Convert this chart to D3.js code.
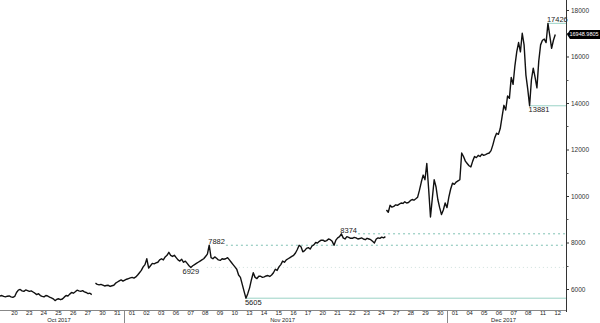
<!DOCTYPE html>
<html>
<head>
<meta charset="utf-8">
<script src="https://cdn.jsdelivr.net/npm/d3@7"></script>
<style>
    body { margin: 0; background: #fff; }
    svg { display: block; font-family: "Liberation Sans", Arial, sans-serif; }
</style>
</head>
<body>
<div id="chart"></div>
<script>
// trading days only (weekends skipped), position 0 = 20 Oct 2017
const dayLabels = ["20", "23", "24", "25", "26", "27", "30", "31",
    "01", "02", "03", "06", "07", "08", "09", "10", "13", "14", "15", "16", "17",
    "20", "21", "22", "23", "24", "27", "28", "29", "30",
    "01", "04", "05", "06", "07", "08", "11", "12"];
const monthLabels = ["Oct 2017", "Nov 2017", "Dec 2017"];
const monthFirstDay = [0, 8, 30];

// price readings every 1/8 trading day, three unbroken pieces
const pieceStart = [-0.95, 5.55, 25.37];
const step = 0.125;
const pricesA = [5700, 5720, 5680, 5660, 5690, 5700, 5660, 5640, 5680, 5850,
    5950, 5980, 5920, 5900, 5960, 5930, 5900, 5920, 5870, 5820,
    5760, 5800, 5720, 5680, 5660, 5720, 5700, 5650, 5620, 5580,
    5500, 5560, 5580, 5540, 5570, 5650, 5720, 5700, 5780, 5850,
    5820, 5880, 5950, 5920, 5900, 5930, 5880, 5850, 5800, 5820,
    5760];
const pricesB = [6250, 6200, 6180, 6200, 6170, 6130, 6150, 6160, 6110, 6140,
    6160, 6250, 6300, 6350, 6390, 6340, 6380, 6420, 6450, 6480,
    6500, 6470, 6520, 6600, 6700, 6800, 6950, 7050, 7300, 6900,
    7000, 7100, 7080, 7120, 7150, 7250, 7300, 7250, 7380, 7450,
    7580, 7450, 7400, 7450, 7350, 7250, 7200, 7280, 7150, 7200,
    7100, 7000, 6929, 7000, 7050, 7100, 7150, 7200, 7250, 7300,
    7400, 7500, 7882, 7350, 7300, 7380, 7320, 7250, 7230, 7300,
    7280, 7300, 7350, 7250, 7150, 7050, 6950, 6850, 6600, 6500,
    6200, 5900, 5605, 5800, 6050, 6400, 6700, 6500, 6450, 6550,
    6550, 6500, 6520, 6560, 6580, 6540, 6600, 6700, 6850, 6800,
    6950, 7050, 7200, 7150, 7250, 7300, 7350, 7400, 7450, 7550,
    7700, 7880, 7820, 7600, 7650, 7750, 7780, 7720, 7850, 7900,
    8000, 7980, 8050, 8100, 8100, 8050, 8080, 8150, 8120, 8050,
    7880, 8100, 8200, 8250, 8374, 8200, 8150, 8250, 8220, 8180,
    8180, 8220, 8200, 8150, 8170, 8200, 8150, 8120, 8180, 8150,
    8120, 8050, 7980, 8150, 8200, 8180, 8230, 8200, 8250];
const pricesC = [9400, 9300, 9600, 9520, 9550, 9620, 9600, 9650, 9700, 9680,
    9750, 9700, 9720, 9800, 9850, 9820, 9880, 9950, 10250, 10600,
    10900, 10700, 11400, 10300, 9100, 9900, 10700, 10400, 9850, 9500,
    9200, 9400, 9700, 9500, 9950, 10300, 10550, 10500, 10600, 10650,
    10700, 11850, 11700, 11500, 11400, 11300, 11250, 11500, 11700, 11650,
    11750, 11700, 11800, 11750, 11780, 11820, 11850, 11950, 12200, 12500,
    12700, 12650, 12900, 13400, 13900, 13700, 14300, 14200, 15100, 14800,
    15600, 16200, 16600, 16200, 17000, 16500, 15200, 14600, 13881, 15000,
    15500, 15100, 14650, 15800, 16500, 16700, 16750, 16600, 17426, 16900,
    16350, 16700, 16948.9805];
const lastPrice = 16948.9805;

// marked highs and lows
const levelValues = [17426, 13881, 8374, 7882, 6929, 5605];
const levelSide = ["above", "below", "above", "above", "below", "below"];

const width = 600, height = 323;
const plotRight = 566, plotBottom = 310;

const svg = d3.select("#chart").append("svg")
    .attr("width", width)
    .attr("height", height);

const x = d3.scaleLinear().domain([-0.95, 37.6]).range([0, plotRight]);
const y = d3.scaleLinear().domain([5097, 18430]).range([plotBottom, 0]);

const pieces = [pricesA, pricesB, pricesC].map(function(arr, k) {
    return arr.map(function(v, i) {
        return {t: pieceStart[k] + i * step, v: v};
    });
});
const allPoints = pieces.flat();

// level lines
const levelKind = ["solid", "solid", "dashed", "dashed", "dotted", "solid"];
const look = {
    solid: {dash: null, color: "#9ad3c6"},
    dashed: {dash: "2,3", color: "#7fc1b3"},
    dotted: {dash: "1,3", color: "#cfe0dc"}
};

const levels = svg.append("g").attr("class", "levels");
levelValues.forEach(function(val, i) {
    const p = allPoints.find(function(d) { return d.v === val; });
    const px = x(p.t), py = y(val);
    const label = levels.append("text")
        .attr("x", levelKind[i] === "dotted" ? px : px - 1)
        .attr("y", levelSide[i] === "above" ? py - 1 : py + 6.5)
        .attr("text-anchor", levelKind[i] === "dotted" ? "middle" : "start")
        .attr("font-size", 7.5)
        .attr("fill", "#222")
        .text(val);
    let x0 = px;
    if (levelKind[i] === "dashed") x0 = px + label.node().getComputedTextLength();
    if (levelKind[i] === "dotted") x0 = px + 16;
    levels.insert("line", "text")
        .attr("x1", x0).attr("x2", plotRight)
        .attr("y1", py).attr("y2", py)
        .attr("stroke", look[levelKind[i]].color)
        .attr("stroke-width", 1)
        .attr("stroke-dasharray", look[levelKind[i]].dash);
});

// price line
const line = d3.line()
    .x(function(d) { return x(d.t); })
    .y(function(d) { return y(d.v); });

svg.append("g").selectAll("path")
    .data(pieces)
    .enter().append("path")
    .attr("d", line)
    .attr("fill", "none")
    .attr("stroke", "#111")
    .attr("stroke-width", 1.4)
    .attr("stroke-linejoin", "round");

// right axis
const yAxis = svg.append("g")
    .attr("transform", "translate(" + plotRight + ",0)")
    .call(d3.axisRight(y)
        .tickValues(d3.range(6000, 18001, 2000))
        .tickFormat(d3.format("d"))
        .tickSize(3)
        .tickPadding(2));
yAxis.select(".domain").attr("d", "M0.5,0V" + (plotBottom + 2)).attr("stroke", "#333");
yAxis.selectAll(".tick line").attr("stroke", "#333");
yAxis.selectAll(".tick text").attr("font-size", 6.5).attr("fill", "#333");

svg.append("g")
    .attr("transform", "translate(" + plotRight + ",0)")
    .selectAll("line")
    .data(d3.range(7000, 18001, 2000))
    .enter().append("line")
    .attr("x1", 0.5).attr("x2", 2.5)
    .attr("y1", function(d) { return Math.round(y(d)) + 0.5; })
    .attr("y2", function(d) { return Math.round(y(d)) + 0.5; })
    .attr("stroke", "#555");

// last price tag
const tagY = y(lastPrice);
svg.append("path")
    .attr("d", "M" + (plotRight + 1) + "," + tagY + "L" + (plotRight + 4) + "," + (tagY - 4.5) +
        "H" + width + "V" + (tagY + 4.5) + "H" + (plotRight + 4) + "Z")
    .attr("fill", "#000");
svg.append("text")
    .attr("x", plotRight + 3.5)
    .attr("y", tagY + 2)
    .attr("font-size", 5.5)
    .attr("fill", "#fff")
    .text(lastPrice);

// bottom axis
const xAxis = svg.append("g")
    .attr("transform", "translate(0," + plotBottom + ")")
    .call(d3.axisBottom(x)
        .tickValues(d3.range(dayLabels.length))
        .tickFormat(function(i) { return dayLabels[i]; })
        .tickSize(0));
xAxis.select(".domain").attr("d", "M0,0.5H" + plotRight).attr("stroke", "#888");
xAxis.selectAll(".tick text")
    .attr("y", 5.3)
    .attr("dy", null)
    .attr("font-size", 5.8)
    .attr("fill", "#222");

// month separators and names
const bounds = monthFirstDay.map(function(d, k) {
    return k === 0 ? x.range()[0] : x(d - 0.5);
}).concat([plotRight]);

svg.append("g").selectAll("line")
    .data(monthFirstDay.slice(1))
    .enter().append("line")
    .attr("x1", function(d) { return Math.round(x(d - 0.5)) + 0.5; })
    .attr("x2", function(d) { return Math.round(x(d - 0.5)) + 0.5; })
    .attr("y1", plotBottom)
    .attr("y2", height)
    .attr("stroke", "#888");

svg.append("g").selectAll("text")
    .data(monthLabels)
    .enter().append("text")
    .attr("x", function(d, k) { return (bounds[k] + bounds[k + 1]) / 2 - 3; })
    .attr("y", 321.7)
    .attr("text-anchor", "middle")
    .attr("font-size", 5.8)
    .attr("fill", "#222")
    .text(function(d) { return d; });
</script>
</body>
</html>
